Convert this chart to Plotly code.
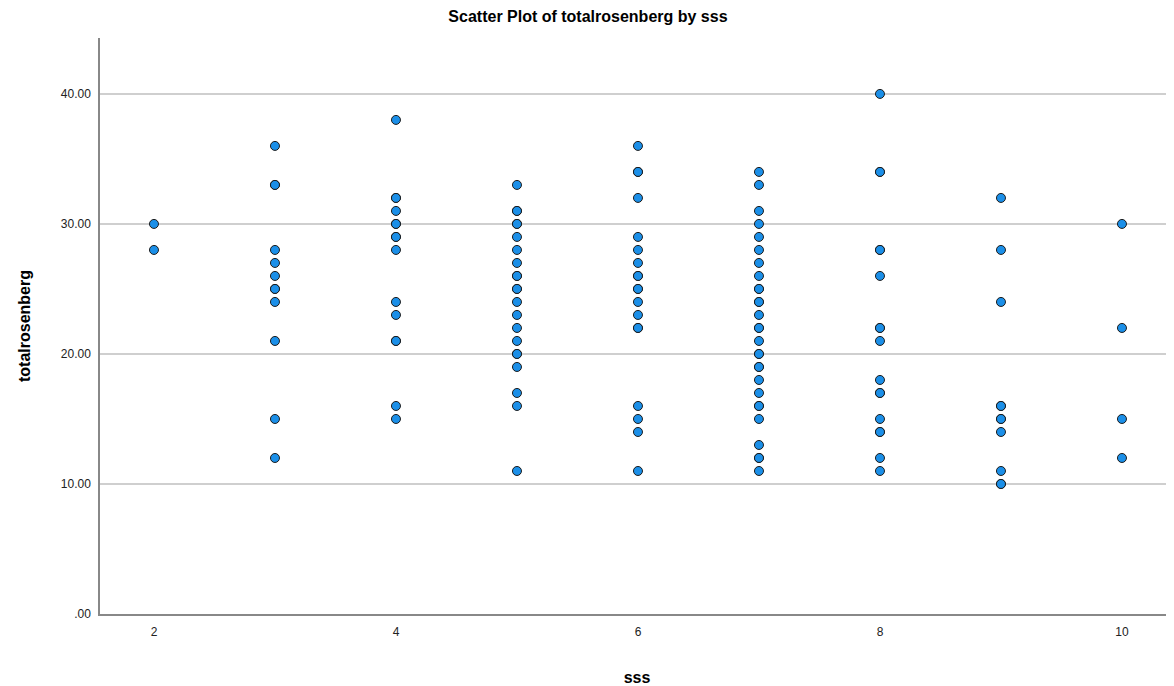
import plotly.graph_objects as go

# Data (sss -> totalrosenberg values)
sss_2 = [30, 28]
sss_3 = [36, 33, 33, 28, 27, 26, 25, 25, 24, 21, 15, 12]
sss_4 = [38, 32, 32, 31, 30, 30, 29, 29, 28, 24, 23, 21, 21, 16, 15]
sss_5 = [33, 31, 31, 30, 30, 29, 28, 27, 26, 26, 25, 25, 24, 23, 22, 21, 20, 20, 19, 17, 16, 11]
sss_6 = [36, 34, 34, 32, 29, 28, 27, 26, 26, 25, 25, 24, 23, 22, 22, 16, 15, 14, 11]
sss_7 = [34, 33, 31, 30, 29, 28, 27, 26, 25, 25, 24, 24, 23, 22, 22, 21, 20, 20, 19, 19,
         18, 17, 16, 16, 15, 13, 12, 12, 11]
sss_8 = [40, 34, 34, 28, 28, 26, 22, 22, 21, 18, 17, 17, 15, 14, 14, 12, 11]
sss_9 = [32, 28, 24, 16, 16, 15, 15, 14, 11, 10, 10]
sss_10 = [30, 22, 15, 12]

groups = {2: sss_2, 3: sss_3, 4: sss_4, 5: sss_5, 6: sss_6,
          7: sss_7, 8: sss_8, 9: sss_9, 10: sss_10}

x_ticks = [2, 4, 6, 8, 10]
y_ticks = [0, 10, 20, 30, 40]
y_tick_labels = [".00", "10.00", "20.00", "30.00", "40.00"]

xs, ys = [], []
for k, vals in groups.items():
    xs.extend([k] * len(vals))
    ys.extend(vals)

FONT = "Liberation Sans, Arial, sans-serif"

fig = go.Figure()
fig.add_trace(go.Scatter(
    x=xs, y=ys, mode="markers",
    marker=dict(size=9, color="#1b8fe8", line=dict(color="#1a1a1a", width=1)),
    showlegend=False,
))

fig.update_layout(
    width=1166, height=678,
    margin=dict(l=92, r=0, t=30, b=72),
    paper_bgcolor="white", plot_bgcolor="white",
    font=dict(family=FONT, color="#000000"),
    title=dict(text="<b>Scatter Plot of totalrosenberg by sss</b>",
               x=0.4974, xanchor="center", y=0.987, yanchor="middle",
               font=dict(size=16, family=FONT, color="#000000")),
)

fig.update_xaxes(
    range=[1.554, 10.43], tickvals=x_ticks, ticktext=[str(v) for v in x_ticks],
    showgrid=False, zeroline=False,
    showline=True, linecolor="#888888", linewidth=1.5,
    ticks="", ticklabelstandoff=6, tickfont=dict(size=12, color="#222222"),
    title=dict(text="<b>sss</b>", font=dict(size=16), standoff=34),
)
fig.update_yaxes(
    range=[0, 44.3], tickvals=y_ticks, ticktext=y_tick_labels,
    showgrid=True, gridcolor="#cfcfcf", gridwidth=1.5, zeroline=False,
    showline=True, linecolor="#888888", linewidth=1.5,
    ticks="", ticklabelstandoff=5, tickfont=dict(size=12, color="#222222"),
    title=dict(text="<b>totalrosenberg</b>", font=dict(size=16), standoff=26),
)

fig.write_html("out.html")
